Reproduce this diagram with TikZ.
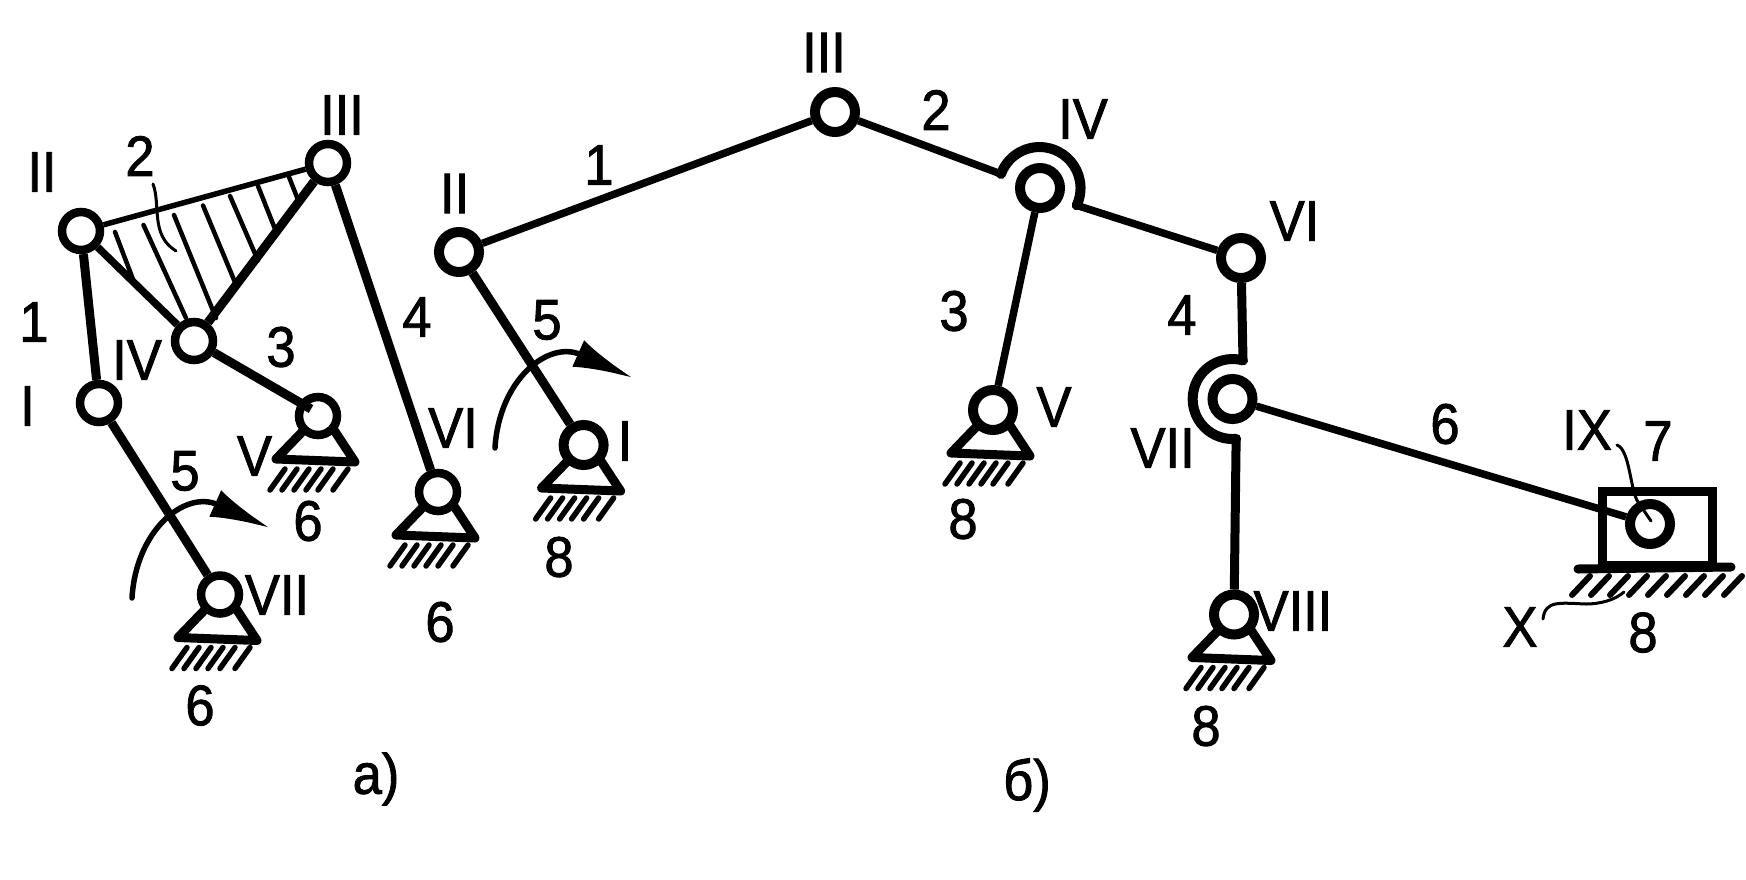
\documentclass[tikz,border=0pt]{standalone}
\usepackage{fontspec}
\setmainfont[FakeStretch=0.92,FakeBold=1.5]{Liberation Sans}
\usetikzlibrary{arrows.meta}
\begin{document}
\begin{tikzpicture}[x=1pt,y=-1pt,
    joint/.style={circle,draw,fill=white,line width=10pt,minimum size=40pt,inner sep=0pt},
    jointa/.style={joint,line width=8.5pt,minimum size=38pt},
    lab/.style={font=\fontsize{57}{57}\selectfont,inner sep=0pt},
    link/.style={line width=7.5pt},
    heavy/.style={line width=9pt},
    hook/.style={line width=10pt,line cap=round},
    leader/.style={line width=3pt,line cap=round},
    hatch/.style={line width=4.5pt,line cap=round},
    leg/.style={line width=9pt,line join=round},
    ar/.style={line width=5.5pt,line cap=round,-{Latex[length=60pt,width=29pt]}},
    support/.pic={
      \draw[leg] (-14,14) -- (-42,43) -- (37,46) -- (16,14);
      \foreach \hx in {-33,-21,-9,3,15,30}
        \draw[line width=5.5pt,line cap=round] (\hx,53) -- ++(-15,21);
    },
    turnarrow/.pic={
      \draw[ar] (132,598) .. controls (136,530) and (185,490) .. (270,528);
    }]
  \useasboundingbox (0,0) rectangle (1746,879);

  % a)
  \node[jointa] (aII) at (81,231) {};
  \node[jointa] (aIII) at (328,163) {};
  \node[jointa] (aIV) at (194,341) {};
  \node[jointa] (aI) at (99,403) {};
  \node[jointa] (aV) at (318,416) {};
  \node[jointa] (aVI) at (438,492) {};
  \node[jointa] (aVII) at (220,594.5) {};
  \coordinate (aVin) at (311,409);

  \draw[line width=5.5pt] (aII) -- (aIII);
  \draw[link] (aII) -- (aIV);
  \draw[heavy] (aIII) -- (aIV);
  \draw[heavy] (aII) -- (aI);
  \draw[heavy] (aIV) -- (aVin);
  \draw[heavy] (aIII) -- (aVI);
  \draw[heavy] (aI) -- (aVII);

  \foreach \xa/\ya/\xb/\yb in {115/232/134/282,143.5/225/186/318,174/215/216/318,203/205.5/237/287,230/196/258/260.5,258/186/277/234,289/177/298.5/201}
    \draw[hatch] (\xa,\ya) -- (\xb,\yb);
  \draw[leader] (153,184) .. controls (161,205) and (150,235) .. (176,251);

  \pic at (aV) {support};
  \pic at (aVI) {support};
  \pic at (aVII) {support};
  \pic at (0,0) {turnarrow};

  \node[lab] (laII) at (42,172) {II};
  \node[lab] (la2) at (140,156) {2};
  \node[lab] (laIII) at (342,115) {III};
  \node[lab] (la1) at (34,322) {1};
  \node[lab] (laIV) at (137,360) {IV};
  \node[lab] (laI) at (27.5,406) {I};
  \node[lab] (la3) at (281,347) {3};
  \node[lab] (la4) at (417,317) {4};
  \node[lab] (laV) at (254.5,456) {V};
  \node[lab] (laVI) at (453,428) {VI};
  \node[lab] (la5) at (185,471) {5};
  \node[lab] (la6) at (308,521) {6};
  \node[lab] (laVII) at (277,595) {VII};
  \node[lab] (la6b) at (200,705.5) {6};
  \node[lab] (la6c) at (440,622) {6};
  \node[lab] (lacap) at (376,779) {а)};

  % b)
  \node[joint] (bII) at (459,252) {};
  \node[joint] (bI) at (583.6,445) {};
  \node[joint] (bIII) at (835,112) {};
  \node[joint] (bIV) at (1040,188) {};
  \node[joint] (bV) at (993,410) {};
  \node[joint] (bVI) at (1241,258) {};
  \node[joint] (bVII) at (1232.5,399) {};
  \node[joint] (bVIII) at (1234,614.5) {};
  \node[draw,line width=9pt,minimum width=110pt,minimum height=74pt,inner sep=0pt] (block) at (1657,528) {};
  \node[joint] (bIX) at (1650,524) {};
  \coordinate (bIXin) at (1651,521);
  \coordinate (hIVa) at (1001,174);
  \coordinate (hVIIa) at (1243,360.4);
  \coordinate (gndl) at (1578,569);
  \coordinate (gndr) at (1731,567);

  \draw[link] (bII) -- (bIII);
  \draw[heavy] (bII) -- (bI);
  \draw[link] (bIII) -- (hIVa);
  \draw[hook] (hIVa) arc[start angle=200,end angle=385,radius=41] coordinate (hIVb);
  \draw[link] (hIVb) -- (bVI);
  \draw[link] (bIV) -- (bV);
  \draw[heavy] (bVI) -- (hVIIa);
  \draw[hook] (hVIIa) arc[start angle=285,end angle=85,radius=40] coordinate (hVIIb);
  \draw[heavy] (hVIIb) -- (bVIII);
  \draw[link] (bVII) -- (bIX);
  \draw[line width=9pt,line cap=round] (gndl) -- (gndr);
  \foreach \hx in {0,1,...,8}
    \draw[line width=6pt,line cap=round] ({1590+19*\hx},576) -- ++(-18,19);
  \draw[leader] (1617,445) .. controls (1630,450) and (1630,490) .. (1638,502) -- (bIXin);
  \draw[leader] (1543,619) .. controls (1545,600) and (1560,603) .. (1586,604) .. controls (1600,604) and (1615,600) .. (1624,592);

  \pic at (bI) {support};
  \pic at (bV) {support};
  \pic at (bVIII) {support};
  \pic at (363,-150) {turnarrow};

  \node[lab] (lbII) at (454.6,193.5) {II};
  \node[lab] (lb1) at (599,165) {1};
  \node[lab] (lb5) at (547,320) {5};
  \node[lab] (lbI) at (625,441) {I};
  \node[lab] (lb8) at (559,557) {8};
  \node[lab] (lbIII) at (824,52.5) {III};
  \node[lab] (lb2) at (936,110) {2};
  \node[lab] (lbIV) at (1083,119) {IV};
  \node[lab] (lb3) at (954,311) {3};
  \node[lab] (lbV) at (1054,407) {V};
  \node[lab] (lb8b) at (963,519) {8};
  \node[lab] (lbVII) at (1162.6,448) {VII};
  \node[lab] (lb4) at (1182,315) {4};
  \node[lab] (lbVI) at (1294.5,221) {VI};
  \node[lab] (lb6) at (1445,424) {6};
  \node[lab] (lbIX) at (1587,430) {IX};
  \node[lab] (lb7) at (1658,441) {7};
  \node[lab] (lbVIII) at (1293,611) {VIII};
  \node[lab] (lbX) at (1520,627) {X};
  \node[lab] (lb8c) at (1643,632.5) {8};
  \node[lab] (lb8d) at (1206,726) {8};
  \node[lab] (lbcap) at (1027,785) {б)};
\end{tikzpicture}
\end{document}
